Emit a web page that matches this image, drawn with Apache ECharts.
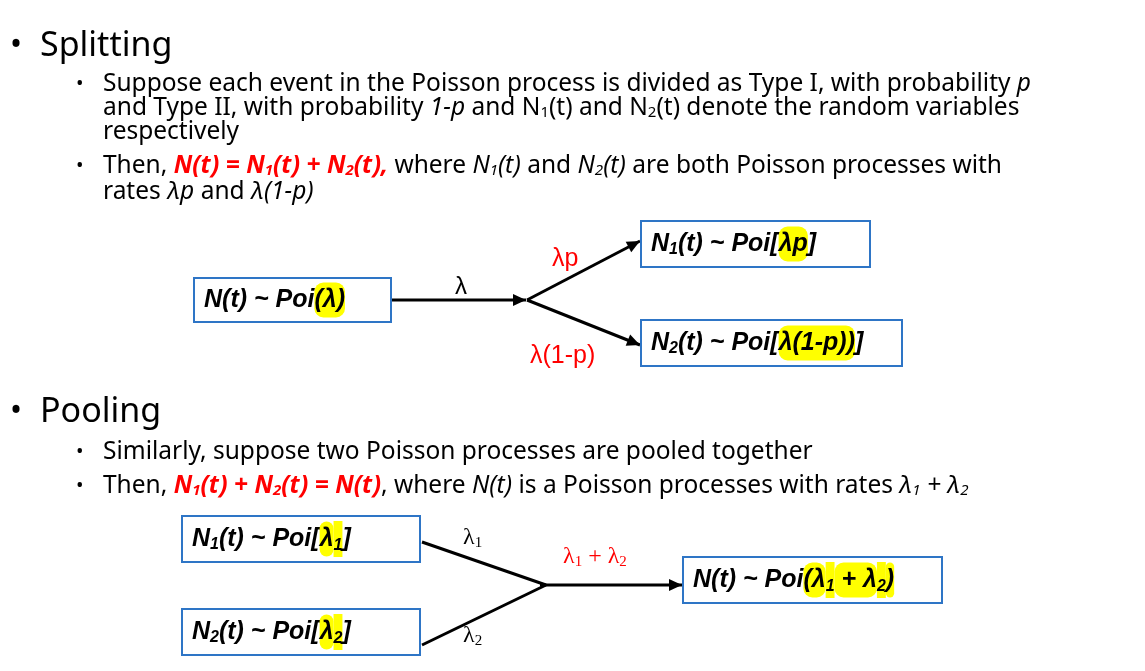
<!DOCTYPE html>
<html>
<head>
<meta charset="utf-8">
<script src="https://cdn.jsdelivr.net/npm/echarts@6/dist/echarts.min.js"></script>
<style>html,body{margin:0;padding:0;background:#fff}#main{width:1145px;height:671px}</style>
</head>
<body>
<div id="main"></div>
<script>
// slide text
var headings = ['Splitting', 'Pooling'];
var splitLines = [
	'Suppose each event in the Poisson process is divided as Type I, with probability {i|p}',
	'and Type II, with probability {i|1-p} and N{s|1}(t) and N{s|2}(t) denote the random variables',
	'respectively',
	'Then, {r|N(t) = N}{rs|1}{r|(t) + N}{rs|2}{r|(t),} where {i|N}{is|1}{i|(t)} and {i|N}{is|2}{i|(t)} are both Poisson processes with',
	'rates {i|λp} and {i|λ(1-p)}'
];
var poolLines = [
	'Similarly, suppose two Poisson processes are pooled together',
	'Then, {r|N}{rs|1}{r|(t) + N}{rs|2}{r|(t) = N(t)}, where {i|N(t)} is a Poisson processes with rates {i|λ}{is|1}{i| + λ}{is|2}'
];
// diagram boxes
var splitBoxes = ['{b|N(t) ~ Poi}{h|(λ)}', '{b|N}{bs|1}{b|(t) ~ Poi[}{h|λp}{b|]}', '{b|N}{bs|2}{b|(t) ~ Poi[}{h|λ(1-p))}{b|]}'];
var poolBoxes = ['{b|N}{bs|1}{b|(t) ~ Poi[}{h|λ}{hs|1}{b|]}', '{b|N}{bs|2}{b|(t) ~ Poi[}{h|λ}{hs|2}{b|]}', '{b|N(t) ~ Poi}{h|(λ}{hs|1}{h| + λ}{hs|2}{h|)}'];
var splitRates = ['λ', '{r|λp}', '{r|λ(1-p)}'];
var poolRates = ['λ{s|1}', 'λ{s|2}', '{r|λ}{rs|1}{r| + λ}{rs|2}'];

var BF = 'Noto Sans', BS = 24.5;
var bodyRich = {
	i: {fontStyle: 'italic', fontSize: BS, fontFamily: BF},
	is: {fontStyle: 'italic', fontSize: 15, fontFamily: BF, padding: [10, 0, 0, 0]},
	s: {fontSize: 15, fontFamily: BF, padding: [10, 0, 0, 0]},
	r: {fill: '#ff0000', fontStyle: 'italic', fontWeight: 'bold', fontSize: BS, fontFamily: BF},
	rs: {fill: '#ff0000', fontStyle: 'italic', fontWeight: 'bold', fontSize: 15, fontFamily: BF, padding: [10, 0, 0, 0]}
};
var boxRich = {
	b: {fontStyle: 'italic', fontWeight: 'bold', fontSize: 25, fontFamily: 'Liberation Sans', fill: '#000'},
	bs: {fontStyle: 'italic', fontWeight: 'bold', fontSize: 16, fontFamily: 'Liberation Sans', fill: '#000', padding: [12, 0, 0, 0]},
	h: {fontStyle: 'italic', fontWeight: 'bold', fontSize: 25, fontFamily: 'Liberation Sans', fill: '#000', backgroundColor: '#ffff00', borderRadius: 9, padding: [5, 0, 5, 0]},
	hs: {fontStyle: 'italic', fontWeight: 'bold', fontSize: 16, fontFamily: 'Liberation Sans', fill: '#000', backgroundColor: '#ffff00', padding: [17, 0, 3, 0]}
};
var rateRich = {
	s: {fontSize: 15, fontFamily: 'Liberation Serif', padding: [10, 0, 0, 0]},
	r: {fill: '#ff0000', fontSize: 24, fontFamily: 'Liberation Serif'},
	rs: {fill: '#ff0000', fontSize: 15, fontFamily: 'Liberation Serif', padding: [10, 0, 0, 0]}
};
var redSans = {r: {fill: '#ff0000', fontSize: 25, fontFamily: 'Liberation Sans'}};

var els = [];
function txt(x, y, text, size, rich, family, fill) {
	els.push({type: 'text', x: x, y: y, style: {
		text: text, rich: rich || {}, fontSize: size, fontFamily: family || BF,
		fill: fill || '#000', verticalAlign: 'middle', align: 'left'
	}});
}
function box(x, y, w, h, text) {
	els.push({type: 'rect', shape: {x: x, y: y, width: w, height: h}, style: {fill: '#fff', stroke: '#2e75c6', lineWidth: 2}});
	txt(x + 10, y + h / 2, text, 25, boxRich, 'Liberation Sans');
}
function arrow(x1, y1, x2, y2, head) {
	els.push({type: 'line', shape: {x1: x1, y1: y1, x2: x2, y2: y2}, style: {stroke: '#000', lineWidth: 3}});
	if (head) {
		var a = Math.atan2(y2 - y1, x2 - x1), L = 13, W = 6;
		var bx = x2 - L * Math.cos(a), by = y2 - L * Math.sin(a);
		els.push({type: 'polygon', shape: {points: [[x2, y2],
			[bx + W * Math.sin(a), by - W * Math.cos(a)], [bx - W * Math.sin(a), by + W * Math.cos(a)]]},
			style: {fill: '#000'}});
	}
}

// headings
txt(10, 46, '•', 32);
txt(40, 46, headings[0], 34);
txt(10, 412, '•', 32);
txt(40, 412, headings[1], 34);
// bullets
var splitY = [84, 108, 132, 166, 192];
splitLines.forEach(function(t, i) {
	if (i === 0 || i === 3) txt(76, splitY[i], '•', 20);
	txt(103, splitY[i], t, BS, bodyRich);
});
var poolY = [452, 486];
poolLines.forEach(function(t, i) {
	txt(76, poolY[i], '•', 20);
	txt(103, poolY[i], t, BS, bodyRich);
});

// splitting diagram
arrow(391, 300, 526, 300, true);
arrow(527, 300, 640, 241, true);
arrow(527, 300, 640, 345, true);
box(194, 278, 197, 44, splitBoxes[0]);
box(641, 221, 229, 46, splitBoxes[1]);
box(641, 320, 261, 46, splitBoxes[2]);
txt(455, 287, splitRates[0], 24, null, 'Liberation Sans');
txt(552, 259, splitRates[1], 25, redSans, 'Liberation Sans');
txt(530, 356, splitRates[2], 25, redSans, 'Liberation Sans');

// pooling diagram
arrow(422, 542, 546, 585, false);
arrow(422, 645, 546, 585, false);
arrow(540, 585, 682, 585, true);
box(182, 516, 238, 46, poolBoxes[0]);
box(182, 609, 238, 46, poolBoxes[1]);
box(683, 557, 259, 46, poolBoxes[2]);
txt(463, 538, poolRates[0], 24, rateRich, 'Liberation Serif');
txt(463, 636, poolRates[1], 24, rateRich, 'Liberation Serif');
txt(563, 557, poolRates[2], 24, rateRich, 'Liberation Serif');

var chart = echarts.init(document.getElementById('main'));
chart.setOption({animation: false, graphic: {elements: els}});
</script>
</body>
</html>
